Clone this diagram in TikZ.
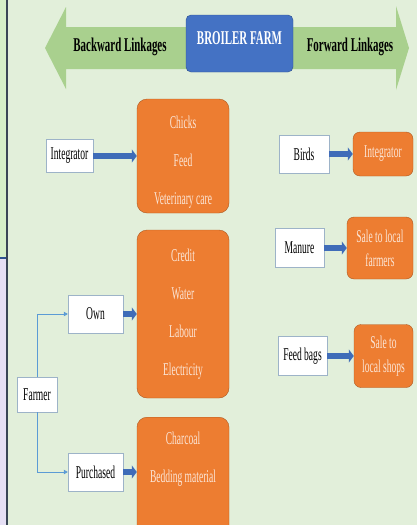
\documentclass[tikz,border=0pt]{standalone}
\usepackage{fontspec}
\setmainfont{Liberation Serif}[FakeStretch=0.53,BoldFeatures={FakeStretch=0.56}]
\usetikzlibrary{arrows.meta}
\definecolor{bgreen}{HTML}{E2EFDA}
\definecolor{stripgreen}{HTML}{D6EFC8}
\definecolor{lavender}{HTML}{E6E0F5}
\definecolor{frameline}{HTML}{3A4656}
\definecolor{arrowgreen}{HTML}{A9D08E}
\definecolor{farmblue}{HTML}{4472C4}
\definecolor{farmline}{HTML}{2F528F}
\definecolor{orangefill}{HTML}{ED7D31}
\definecolor{orangeline}{HTML}{AE5A21}
\definecolor{cream}{HTML}{FBE5D6}
\definecolor{boxline}{HTML}{9DB3C8}
\definecolor{thinline}{HTML}{5B9BD5}
\definecolor{arrowblue}{HTML}{3F6CB8}
\begin{document}
\begin{tikzpicture}
      [x=1pt,y=-1pt,
      white node/.style={draw=boxline,fill=white,font=\fontsize{18}{20}\selectfont,inner sep=1pt},
      orange node/.style={draw=orangeline,fill=orangefill,rounded corners=10pt,text=cream,
        align=center,inner sep=1pt,font=\fontsize{18}{38}\selectfont},
      box text/.style={text=cream,align=center,font=\fontsize{18}{38}\selectfont},
      small orange/.style={orange node,rounded corners=7pt,font=\fontsize{18}{24}\selectfont},
      head text/.style={font=\fontsize{19.5}{21}\selectfont\bfseries},
      big arrow/.style={draw=arrowblue,line width=6pt,-{Triangle[length=5pt,width=13pt]}},
      thin arrow/.style={draw=thinline,line width=0.8pt,-{Triangle[length=4pt,width=4.5pt]}}]
      \useasboundingbox (0,0) rectangle (417,525);
      \clip (0,0) rectangle (417,525);
      % background and frame
      \fill[bgreen] (0,0) rectangle (417,525);
      \fill[stripgreen] (0,0) rectangle (6,258);
      \fill[lavender] (0,258) rectangle (6,525);
      \draw[farmline,line width=1.5pt] (0,258) -- (6,258);
      \draw[frameline,line width=2pt] (7,0) -- (7,525);
      % linkage arrows
      \fill[arrowgreen] (190,27) -- (66,27) -- (66,7) -- (45,48) -- (66,89) -- (66,69) -- (190,69) -- cycle;
      \fill[arrowgreen] (290,27) -- (396,27) -- (396,6) -- (409,48) -- (396,90) -- (396,69) -- (290,69) -- cycle;
      \node[head text] (back) at (120,47) {Backward Linkages};
      \node[head text] (fwd) at (350,47) {Forward Linkages};
      \node[head text,draw=farmline,fill=farmblue,rounded corners=5pt,text=white,minimum width=107pt,
        minimum height=57pt,text height=13pt,text depth=11pt] (farm) at (239.5,43.5) {BROILER FARM};
      % backward side
      \node[white node,minimum width=47pt,minimum height=33pt] (integ) at (69.5,156) {Integrator};
      \node[orange node,minimum width=92pt,minimum height=114pt] (inputs) at (183,156) {};
      \node[box text] (inputstext) at (183,162) {Chicks\\Feed\\Veterinary care};
      \node[white node,minimum width=55pt,minimum height=38pt] (own) at (95.5,314) {Own};
      \node[orange node,minimum width=92pt,minimum height=168pt] (owned) at (183,314)
        {Credit\\Water\\Labour\\Electricity};
      \node[white node,minimum width=40pt,minimum height=35pt] (farmer) at (37,394.5) {Farmer};
      \node[white node,minimum width=55pt,minimum height=38pt] (buy) at (95.5,472) {Purchased};
      \node[orange node,minimum width=92pt,minimum height=124pt,anchor=north] (bought) at (183,417) {};
      \node[box text] (boughttext) at (183,459) {Charcoal\\Bedding material};
      % forward side
      \node[white node,minimum width=50pt,minimum height=38pt] (birds) at (304,154) {Birds};
      \node[small orange,minimum width=60pt,minimum height=44pt] (buyer) at (383,154) {Integrator};
      \node[white node,minimum width=49pt,minimum height=39pt] (manure) at (299.5,248) {Manure};
      \node[small orange,minimum width=66pt,minimum height=62pt] (farmsale) at (380,248)
        {Sale to local\\farmers};
      \node[white node,minimum width=49pt,minimum height=39pt] (bags) at (302.5,356) {Feed bags};
      \node[small orange,minimum width=59pt,minimum height=63pt] (shopsale) at (383.5,356)
        {Sale to\\local shops};
      % connectors
      \path (integ) edge[big arrow] (inputs);
      \path (own) edge[big arrow] (owned);
      \path (buy.east) edge[big arrow] (buy.east -| bought.west);
      \path (birds) edge[big arrow] (buyer);
      \path (manure) edge[big arrow] (farmsale);
      \path (bags) edge[big arrow] (shopsale);
      \draw[thin arrow] (farmer.north) |- (own.west);
      \draw[thin arrow] (farmer.south) |- (buy.west);
    \end{tikzpicture}
\end{document}
